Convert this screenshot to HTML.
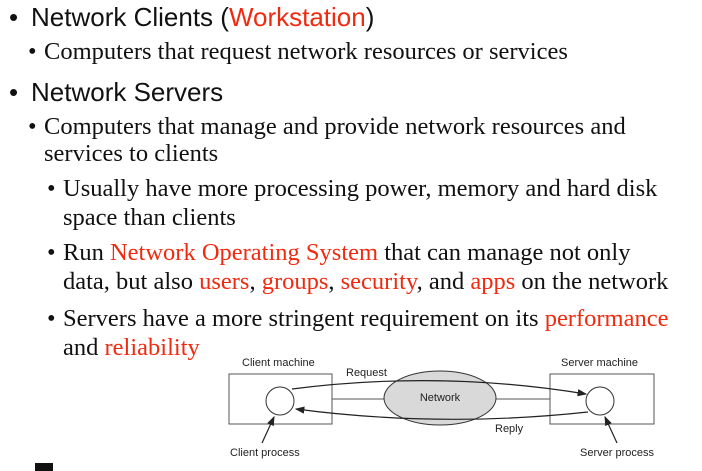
<!DOCTYPE html>
<html><head><meta charset="utf-8"><style>
body{margin:0;width:702px;height:471px;background:#fff;position:relative;overflow:hidden}
.t{position:absolute;white-space:nowrap;color:#111}
.h{font-family:"Liberation Sans",sans-serif;font-size:26px}
.s{font-family:"Liberation Serif",serif;font-size:24.5px}
.r{color:#f02a10}
</style></head><body>
<div class="t h" style="left:9px;top:2px">•</div><div class="t h" style="left:31px;top:2px">Network Clients (<span class="r">Workstation</span>)</div>
<div class="t h" style="left:9px;top:77px">•</div><div class="t h" style="left:31px;top:77px">Network Servers</div>
<div class="t s" style="left:28px;top:38px">•</div><div class="t s" style="left:44px;top:38px">Computers that request network resources or services</div>
<div class="t s" style="left:28px;top:113px">•</div><div class="t s" style="left:44px;top:113px">Computers that manage and provide network resources and</div>
<div class="t s" style="left:44px;top:140px">services to clients</div>
<div class="t s" style="left:47px;top:175px">•</div><div class="t s" style="left:63px;top:175px">Usually have more processing power, memory and hard disk</div>
<div class="t s" style="left:63px;top:204px">space than clients</div>
<div class="t s" style="left:47px;top:239px">•</div><div class="t s" style="left:63px;top:239px">Run <span class="r">Network Operating System</span> that can manage not only</div>
<div class="t s" style="left:63px;top:268px">data, but also <span class="r">users</span>, <span class="r">groups</span>, <span class="r">security</span>, and <span class="r">apps</span> on the network</div>
<div class="t s" style="left:47px;top:305px">•</div><div class="t s" style="left:63px;top:305px">Servers have a more stringent requirement on its <span class="r">performance</span></div>
<div class="t s" style="left:63px;top:334px">and <span class="r">reliability</span></div>
<div style="position:absolute;left:35px;top:463px;width:18px;height:8px;background:#111"></div>
<svg style="position:absolute;left:0;top:0" width="702" height="471" font-family="Liberation Sans, sans-serif" font-size="11" fill="#222">
<defs><marker id="a" markerWidth="8" markerHeight="6" refX="7" refY="3" orient="auto"><path d="M0,0L8,3L0,6z" fill="#222"/></marker></defs>
<g stroke="#555" fill="none" stroke-width="1">
<rect x="229" y="374" width="103" height="50"/>
<rect x="550" y="374" width="104" height="50"/>
<line x1="332" y1="399" x2="385" y2="399"/>
<line x1="495" y1="399" x2="550" y2="399"/>
</g>
<ellipse cx="440" cy="398" rx="56" ry="27" fill="#d9d9d9" stroke="#333"/>
<circle cx="280" cy="401" r="14" fill="#fff" stroke="#333"/>
<circle cx="600" cy="401" r="14" fill="#fff" stroke="#333"/>
<g stroke="#222" fill="none" stroke-width="1.2">
<path d="M292,389 Q440,370 586,394" marker-end="url(#a)"/>
<path d="M588,412 Q440,428 296,409" marker-end="url(#a)"/>
<path d="M262,443 L274,417" marker-end="url(#a)"/>
<path d="M617,443 L605,417" marker-end="url(#a)"/>
</g>
<text x="242" y="366">Client machine</text>
<text x="346" y="376">Request</text>
<text x="440" y="401" text-anchor="middle">Network</text>
<text x="495" y="432">Reply</text>
<text x="561" y="366">Server machine</text>
<text x="230" y="456">Client process</text>
<text x="580" y="456">Server process</text>
</svg>
</body></html>
